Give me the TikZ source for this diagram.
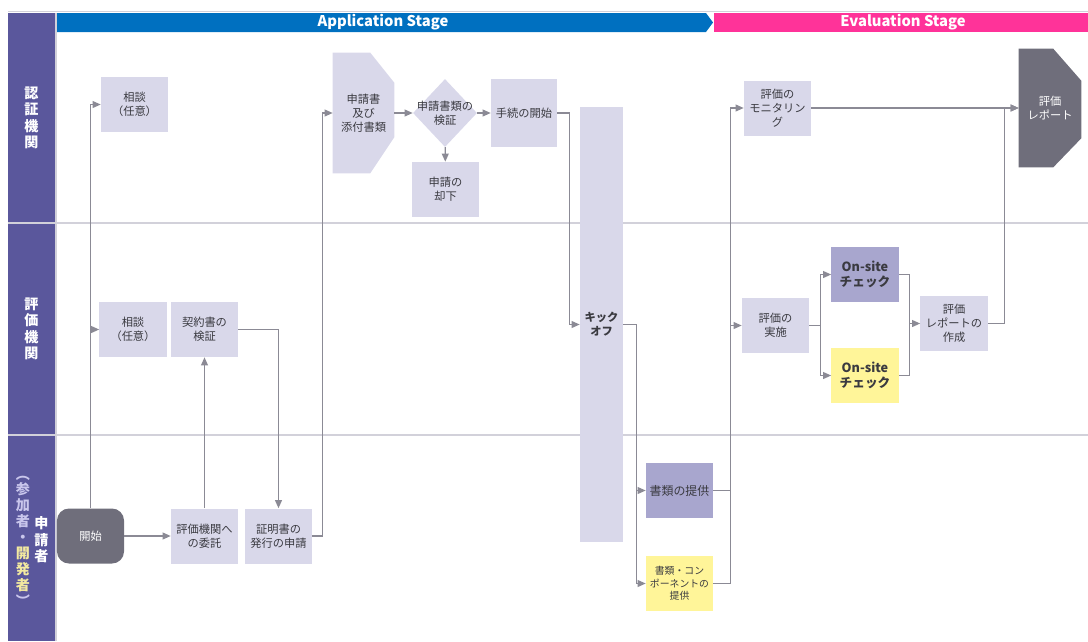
\documentclass[tikz,border=0pt]{standalone}
\usepackage{fontspec}
\setmainfont{Noto Sans CJK JP}
\usetikzlibrary{arrows.meta,shapes.geometric,calc,backgrounds}

\definecolor{lanebg}{HTML}{5A579C}
\definecolor{stageapp}{HTML}{0070C0}
\definecolor{stageeval}{HTML}{FF3399}
\definecolor{boxlight}{HTML}{D9D8EA}
\definecolor{boxdark}{HTML}{A8A6CE}
\definecolor{boxyellow}{HTML}{FFF599}
\definecolor{boxgray}{HTML}{6F6E7B}
\definecolor{flowline}{HTML}{8B8A95}
\definecolor{laneline}{HTML}{D2D1DA}
\definecolor{textdark}{HTML}{3A3A40}
\definecolor{parenlav}{HTML}{C9C6EC}
\definecolor{parenyel}{HTML}{F2E9A0}

\tikzset{
  box/.style={fill=boxlight, minimum width=1.675cm, minimum height=1.375cm,
    inner sep=1pt, align=center, text=textdark, font=\fontsize{8}{10}\selectfont},
  flow/.style={draw=flowline, line width=0.9pt, -{Triangle[length=2mm,width=1.7mm]}},
  link/.style={draw=flowline, line width=0.9pt},
  lanetext/.style={text=white, align=center, inner sep=0pt,
    font=\fontsize{10}{11.7}\selectfont\bfseries},
  stagetext/.style={text=white, font=\fontsize{10.5}{12}\selectfont\bfseries},
}

\begin{document}
\begin{tikzpicture}[x=0.025cm, y=-0.025cm]
   \useasboundingbox (0,0) rectangle (1088,641);

   % lanes and stage bar
   \fill[lanebg] (8,13) rectangle (55,641);
   \draw[laneline, line width=0.6pt] (8,11.5) -- (1088,11.5);
   \draw[laneline, line width=0.8pt] (56,13) -- (56,641);
   \draw[laneline, line width=1.1pt] (8,223) -- (1088,223);
   \draw[laneline, line width=1.1pt] (8,435) -- (1088,435);
   \fill[stageapp] (57,13) -- (706,13) -- (713,22.5) -- (706,32) -- (57,32) -- cycle;
   \fill[stageeval] (714,13) rectangle (1088,32);
   \node[stagetext] (appstage) at (383,22.5) {Application Stage};
   \node[stagetext] (evalstage) at (903,22.5) {Evaluation Stage};

   \node[lanetext] (lane1) at (31.5,118) {認\\証\\機\\関};
   \node[lanetext] (lane2) at (31.5,329) {評\\価\\機\\関};
   \node[lanetext] (lane3) at (41.5,540) {申\\請\\者};
   \node[lanetext, font=\fontsize{10}{11.3}\selectfont\bfseries] (lane3sub) at (23,541)
     {{\color{parenlav}︵}\\{\color{parenlav}参}\\{\color{parenlav}加}\\{\color{parenlav}者}\\{\color{parenlav}・}\\{\color{parenyel}開}\\{\color{parenyel}発}\\{\color{parenyel}者}\\{\color{parenlav}︶}};

   % certification body
   \node[box] (sodan1) at (134.5,104.5) {相談\\（任意）};
   \node[box, fill=none, minimum width=1.525cm, minimum height=3cm] (shinsei) at (363.5,113) {申請書\\及び\\添付書類};
   \node[diamond, fill=boxlight, minimum width=1.6cm, minimum height=1.7cm, inner sep=0pt,
     label={[align=center, text=textdark, font=\fontsize{8}{10}\selectfont]center:申請書類の\\検証}] (kensho) at (445,113) {};
   \node[box] (kyakka) at (445.5,189.5) {申請の\\却下};
   \node[box, minimum width=1.65cm, minimum height=1.7cm] (tetsuzuki) at (524,113) {手続の開始};
   \node[box, minimum width=1.075cm, minimum height=10.875cm, font=\fontsize{8}{10}\selectfont\bfseries] (kickoff) at (601.5,324.5) {キック\\オフ};
   \node[box] (monitor) at (777.5,108) {評価の\\モニタリン\\グ};
   \node[box, fill=none, text=white, minimum width=1.55cm, minimum height=2.95cm] (report) at (1050,108) {評価\\レポート};

   % evaluation body
   \node[box] (sodan2) at (133,329.5) {相談\\（任意）};
   \node[box] (keiyaku) at (204.5,329.5) {契約書の\\検証};
   \node[box] (jisshi) at (775.5,325.5) {評価の\\実施};
   \node[box, fill=boxdark, font=\fontsize{9}{11}\selectfont\bfseries] (onsite1) at (865,274.5) {On-site\\チェック};
   \node[box, fill=boxyellow, font=\fontsize{9}{11}\selectfont\bfseries] (onsite2) at (865,375.5) {On-site\\チェック};
   \node[box] (sakusei) at (954,323.5) {評価\\レポートの\\作成};

   % applicant
   \node[box, fill=boxgray, text=white, rounded corners=0.3cm] (kaishi) at (90.5,536) {開始};
   \node[box] (itaku) at (204.5,536) {評価機関へ\\の委託};
   \node[box] (shomei) at (278.5,536) {証明書の\\発行の申請};
   \node[box, fill=boxdark, font=\fontsize{8.5}{10}\selectfont] (teikyo) at (679.5,490.5) {書類の提供};
   \node[box, fill=boxyellow, font=\fontsize{7}{9}\selectfont] (component) at (679.5,583.5) {書類・コン\\ポーネントの\\提供};

   \begin{pgfonlayer}{background}
     \fill[boxlight] (shinsei.north west) -- ($(shinsei.north east)+(-24,0)$) -- ($(shinsei.north east)+(0,30)$)
       -- ($(shinsei.south east)+(0,-36)$) -- ($(shinsei.south east)+(-24,0)$) -- (shinsei.south west) -- cycle;
     \fill[boxgray] (report.north west) -- ($(report.north east)+(-28,0)$) -- ($(report.north east)+(0,32)$)
       -- ($(report.south east)+(0,-29)$) -- ($(report.south east)+(-28,0)$) -- (report.south west) -- cycle;
   \end{pgfonlayer}

   % flow
   \draw[flow] (kaishi.north) |- (sodan1.west);
   \draw[flow] (kaishi.north |- sodan2.west) -- (sodan2.west);
   \draw[flow] (kaishi) -- (itaku);
   \draw[flow] (itaku) -- (keiyaku);
   \draw[flow] (keiyaku.east) -| (shomei.north);
   \draw[flow] (shomei.east) -- ++(10,0) |- (shinsei.west);
   \draw[flow] (shinsei) -- (kensho);
   \draw[flow] (kensho) -- (tetsuzuki);
   \draw[flow] (kensho) -- (kyakka);
   \draw[flow] (tetsuzuki.east) -- ++(12,0) |- (kickoff.west);
   \draw[flow] (kickoff.east) -- ++(13,0) |- (teikyo.west);
   \draw[flow] (kickoff.east) -- ++(13,0) |- (component.west);
   \coordinate (j1) at ($(component.east)+(17,0)$);
   \draw[link] (teikyo.east) -- (teikyo.east -| j1);
   \draw[flow] (component.east) -- (j1) |- (monitor.west);
   \draw[flow] (j1 |- jisshi.west) -- (jisshi.west);
   \draw[flow] (jisshi.east) -- ++(11,0) |- (onsite1.west);
   \draw[flow] (jisshi.east) -- ++(11,0) |- (onsite2.west);
   \coordinate (j2) at ($(onsite1.east)+(11,0)$);
   \draw[link] (onsite1.east) -- (j2) |- (onsite2.east);
   \draw[flow] (j2 |- sakusei.west) -- (sakusei.west);
   \draw[flow] (sakusei.east) -- ++(17,0) |- (report.west);
   \draw[flow] (monitor) -- (report);

\end{tikzpicture}
\end{document}
